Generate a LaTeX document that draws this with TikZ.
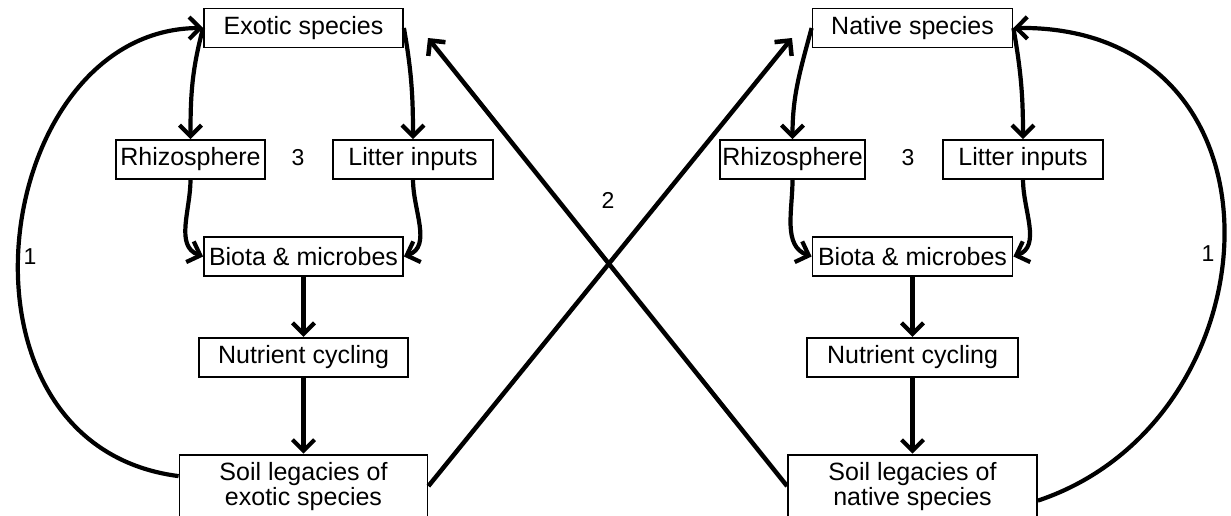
\documentclass[tikz,border=0pt]{standalone}
\usepackage{fontspec}
\setmainfont{Liberation Sans}
\usetikzlibrary{arrows.meta,positioning}
\tikzset{
  spbox/.style={draw, line width=1.8pt, minimum height=39pt, inner sep=2pt, align=center,
                font=\fontsize{25}{25}\selectfont},
  flow/.style={-{Straight Barb[length=11pt,width=22pt]}, line width=4.2pt},
  cross/.style={flow, line width=4.5pt},
  num/.style={font=\fontsize{23}{25}\selectfont},
}

\begin{document}
\begin{tikzpicture}[x=1pt, y=1pt]
  \useasboundingbox (0,0) rectangle (1231,-515);
  % exotic side
  \node[spbox, minimum width=199pt] (exS) at (303.5,-28) {Exotic species};
  \node[spbox, minimum width=149pt] (exR) at (190.5,-159.5) {Rhizosphere};
  \node[spbox, minimum width=160pt] (exL) at (413,-159.5) {Litter inputs};
  \node[spbox, minimum width=199pt] (exB) at (303.5,-256.5) {Biota \& microbes};
  \node[spbox, minimum width=209pt, below=60pt of exB] (exN) {Nutrient cycling};
  \node[spbox, minimum width=248pt, minimum height=63pt, below=76pt of exN] (exT) {Soil legacies of\\exotic species};
  \draw[flow] (exS.west) to[out=-105,in=90] (exR.north);
  \draw[flow] (exS.east) to[out=-80,in=90] (exL.north);
  \draw[flow] (exR.south) to[out=-90,in=160] (exB.west);
  \draw[flow] (exL.south) to[out=-90,in=20] (exB.east);
  \draw[flow] (exB) -- (exN);
  \draw[flow] (exN) -- (exT);
  \draw[flow] ([yshift=10pt]exT.west) .. controls (-65,-445) and (-10,-29) .. (exS.west);
  % native side
  \node[spbox, minimum width=200pt] (naS) at (912.5,-28) {Native species};
  \node[spbox, minimum width=144pt] (naR) at (792.5,-159.5) {Rhizosphere};
  \node[spbox, minimum width=160pt] (naL) at (1023,-159.5) {Litter inputs};
  \node[spbox, minimum width=200pt] (naB) at (912.5,-256.5) {Biota \& microbes};
  \node[spbox, minimum width=211pt, below=60pt of naB] (naN) {Nutrient cycling};
  \node[spbox, minimum width=249pt, minimum height=63pt, below=76pt of naN] (naT) {Soil legacies of\\native species};
  \draw[flow] (naS.west) to[out=-105,in=90] (naR.north);
  \draw[flow] (naS.east) to[out=-80,in=90] (naL.north);
  \draw[flow] (naR.south) to[out=-90,in=160] (naB.west);
  \draw[flow] (naL.south) to[out=-90,in=20] (naB.east);
  \draw[flow] (naB) -- (naN);
  \draw[flow] (naN) -- (naT);
  \draw[flow] ([yshift=-14.5pt]naT.east) .. controls (1280,-420) and (1300,-25) .. (naS.east);
  % feedback between the two sides
  \coordinate (tipN) at (792,-38);
  \coordinate (tipE) at (428,-38);
  \draw[cross] (exT.east) -- (tipN);
  \draw[cross] (naT.west) -- (tipE);
  % numbers
  \node[num] (oneE) at (30,-257) {1};
  \node[num] (oneN) at (1208,-254) {1};
  \node[num] (two) at (608,-200) {2};
  \node[num] (thrE) at (298,-158) {3};
  \node[num] (thrN) at (908,-158) {3};
\end{tikzpicture}
\end{document}
